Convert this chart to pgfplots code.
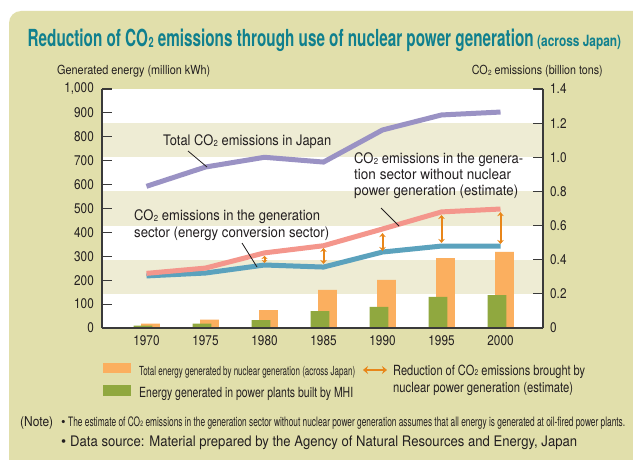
\documentclass[border=0pt]{standalone}
\usepackage{fontspec}
\setmainfont{TeX Gyre Heros}
\newfontfamily\cn{TeX Gyre Heros}[FakeStretch=0.84]
\usepackage{pgfplots}
\usepackage{pgfplotstable}
\pgfplotsset{compat=1.18}
\usetikzlibrary{arrows.meta}
\definecolor{bgout}{HTML}{E1DFAB}
\definecolor{band}{HTML}{EEECD4}
\definecolor{txt}{HTML}{231F20}
\definecolor{ttl}{HTML}{10808E}
\definecolor{purp}{HTML}{9A92C4}
\definecolor{pinkl}{HTML}{F4968C}
\definecolor{bluel}{HTML}{5BA2BD}
\definecolor{orbar}{HTML}{FBAF5F}
\definecolor{grbar}{HTML}{90A83F}
\definecolor{arr}{HTML}{E8861A}
\definecolor{axc}{HTML}{3A3A3A}
\newcommand\co{CO\kern0.03em\raisebox{-0.06ex}{\scalebox{0.6}{2}}}
\newcommand\tx[3]{\resizebox{#1}{\height}{\fontsize{#2}{#2}\selectfont #3}}

\pgfplotstableread{
year orange green
1970 18 10
1975 35 18
1980 75 33
1985 159 71
1990 201 88
1995 292 130
2000 318 138
}\bars

\pgfplotstableread{
year total gen nonuc
1970 0.830 0.305 0.320
1975 0.943 0.322 0.351
1980 1.000 0.369 0.440
1985 0.972 0.357 0.482
1990 1.160 0.445 0.580
1995 1.248 0.480 0.680
2000 1.265 0.480 0.697
}\lines

\begin{document}
\begin{tikzpicture}
\path[use as bounding box] (0,0) rectangle (633pt,459pt);
\fill[white] (0,0) rectangle (633pt,459pt);
\begin{scope}
\clip (0,0) rectangle (633pt,459pt);
\fill[bgout, rounded corners=12pt] (9pt,-20pt) rectangle (660pt,448pt);
\end{scope}

\begin{axis}[
  at={(102pt,131pt)}, anchor=south west,
  width=441pt, height=239pt, scale only axis,
  xmin=1966.23, xmax=2003.6, ymin=0, ymax=1000,
  axis x line*=bottom, axis y line*=left,
  axis line style={axc, line width=1.2pt},
  axis on top,
  axis background/.style={fill=white},
  ytick={0,100,...,1000},
  xtick={1970,1975,...,2000},
  xticklabels={1970,1975,1980,1985,1990,1995,2000},
  tick align=inside, major tick length=10pt,
  tick style={axc, line width=1.2pt},
  x tick style={draw=none},
  /pgf/number format/assume math mode=true,
  /pgf/number format/1000 sep={,},
  ticklabel style={font=\cn\fontsize{14}{14}\selectfont, text=txt},
  yticklabel style={anchor=east, inner sep=0pt, xshift=-8pt},
  xticklabel style={anchor=north, inner sep=0pt, yshift=-7pt},
]
\fill[band] (axis cs:1966.23,142.857) rectangle (axis cs:2003.6,285.714);
\fill[band] (axis cs:1966.23,428.571) rectangle (axis cs:2003.6,571.429);
\fill[band] (axis cs:1966.23,714.286) rectangle (axis cs:2003.6,857.143);
\addplot[ybar, bar width=1.6, bar shift=0.34, fill=orbar, draw=none] table[x=year, y=orange]{\bars};
\addplot[ybar, bar width=1.6, bar shift=-0.3, fill=grbar, draw=none] table[x=year, y=green]{\bars};
\end{axis}

\begin{axis}[
  at={(102pt,131pt)}, anchor=south west,
  width=441pt, height=239pt, scale only axis,
  xmin=1966.23, xmax=2003.6, ymin=0, ymax=1.4,
  axis x line=none, axis y line*=right,
  axis line style={axc, line width=1.2pt},
  axis on top,
  ytick={0,0.2,0.4,0.6,0.8,1.0,1.2,1.4},
  yticklabels={0,0.2,0.4,0.6,0.8,1.0,1.2,1.4},
  tick align=inside, major tick length=10pt,
  tick style={axc, line width=1.2pt},
  ticklabel style={font=\cn\fontsize{14}{14}\selectfont, text=txt},
  yticklabel style={anchor=west, inner sep=0pt, xshift=7pt},
]
\addplot[purp, line width=5pt] table[x=year, y=total]{\lines};
\addplot[bluel, line width=5pt] table[x=year, y=gen]{\lines};
\addplot[pinkl, line width=5pt] table[x=year, y=nonuc]{\lines};
\addplot[arr, line width=2pt, {Stealth[length=3pt,width=6pt]}-{Stealth[length=3pt,width=6pt]}] coordinates {(1980,0.381) (1980,0.422)};
\addplot[arr, line width=2pt, {Stealth[length=4pt,width=6.5pt]}-{Stealth[length=4pt,width=6.5pt]}] coordinates {(1985,0.375) (1985,0.469)};
\addplot[arr, line width=2pt, {Stealth[length=4pt,width=6.5pt]}-{Stealth[length=4pt,width=6.5pt]}] coordinates {(1990,0.451) (1990,0.556)};
\addplot[arr, line width=2pt, {Stealth[length=4pt,width=6.5pt]}-{Stealth[length=4pt,width=6.5pt]}] coordinates {(1995,0.498) (1995,0.662)};
\addplot[arr, line width=2pt, {Stealth[length=4pt,width=6.5pt]}-{Stealth[length=4pt,width=6.5pt]}] coordinates {(2000,0.492) (2000,0.679)};
\end{axis}

% title
\node[anchor=base west, inner sep=0, text=ttl] at (27.5pt,412pt) {\tx{506pt}{23.5}{\bfseries Reduction of \co{} emissions through use of nuclear power generation}};
\node[anchor=base west, inner sep=0, text=ttl] at (537pt,412pt) {\tx{84pt}{15.5}{\bfseries (across Japan)}};
% axis titles
\node[anchor=base west, inner sep=0, text=txt] at (57pt,384pt) {\tx{153pt}{12.5}{Generated energy (million kWh)}};
\node[anchor=base east, inner sep=0, text=txt] at (603pt,384pt) {\tx{131pt}{12.5}{\co{} emissions (billion tons)}};
% annotations
\node[anchor=base west, inner sep=0, text=txt] at (163pt,313pt) {\tx{168pt}{14.5}{Total \co{} emissions in Japan}};
\draw[txt, line width=0.8pt] (188pt,308pt) -- (207pt,292pt);
\node[anchor=base west, inner sep=0, text=txt] at (134pt,238pt) {\tx{186pt}{14.5}{\co{} emissions in the generation}};
\node[anchor=base west, inner sep=0, text=txt] at (134pt,222pt) {\tx{195pt}{14.5}{sector (energy conversion sector)}};
\draw[txt, line width=0.8pt] (242pt,216pt) -- (257pt,192pt);
\node[anchor=base west, inner sep=0, text=txt] at (354pt,295pt) {\tx{169pt}{14.5}{\co{} emissions in the genera-}};
\node[anchor=base west, inner sep=0, text=txt] at (354pt,279pt) {\tx{157pt}{14.5}{tion sector without nuclear}};
\node[anchor=base west, inner sep=0, text=txt] at (354pt,263pt) {\tx{164pt}{14.5}{power generation (estimate)}};
\draw[txt, line width=0.8pt] (381pt,251pt) -- (399pt,233pt);
% legend
\fill[orbar] (103pt,86pt) rectangle (131pt,96pt);
\fill[grbar] (103pt,63pt) rectangle (131pt,74pt);
\node[anchor=base west, inner sep=0, text=txt] at (139pt,84pt) {\tx{216pt}{12.5}{Total energy generated by nuclear generation (across Japan)}};
\node[anchor=base west, inner sep=0, text=txt] at (139pt,62pt) {\tx{214pt}{14}{Energy generated in power plants built by MHI}};
\draw[arr, line width=2.5pt, {Stealth[length=5pt,width=8pt]}-{Stealth[length=5pt,width=8pt]}] (363pt,89pt) -- (387pt,89pt);
\node[anchor=base west, inner sep=0, text=txt] at (393pt,83.5pt) {\tx{192pt}{14}{Reduction of \co{} emissions brought by}};
\node[anchor=base west, inner sep=0, text=txt] at (393pt,66.5pt) {\tx{180pt}{14}{nuclear power generation (estimate)}};
% notes
\node[anchor=base west, inner sep=0, text=txt] at (20pt,33pt) {\tx{33pt}{13.5}{(Note)}};
\node[anchor=base west, inner sep=0, text=txt] at (61pt,33pt) {\fontsize{13}{13}\selectfont\textbullet};
\node[anchor=base west, inner sep=0, text=txt] at (68pt,33pt) {\tx{557pt}{13}{The estimate of \co{} emissions in the generation sector without nuclear power generation assumes that all energy is generated at oil-fired power plants.}};
\node[anchor=base west, inner sep=0, text=txt] at (61pt,13pt) {\fontsize{14.5}{14.5}\selectfont\textbullet};
\node[anchor=base west, inner sep=0, text=txt] at (70pt,13pt) {\tx{507pt}{14.5}{Data source: Material prepared by the Agency of Natural Resources and Energy, Japan}};
\end{tikzpicture}
\end{document}
